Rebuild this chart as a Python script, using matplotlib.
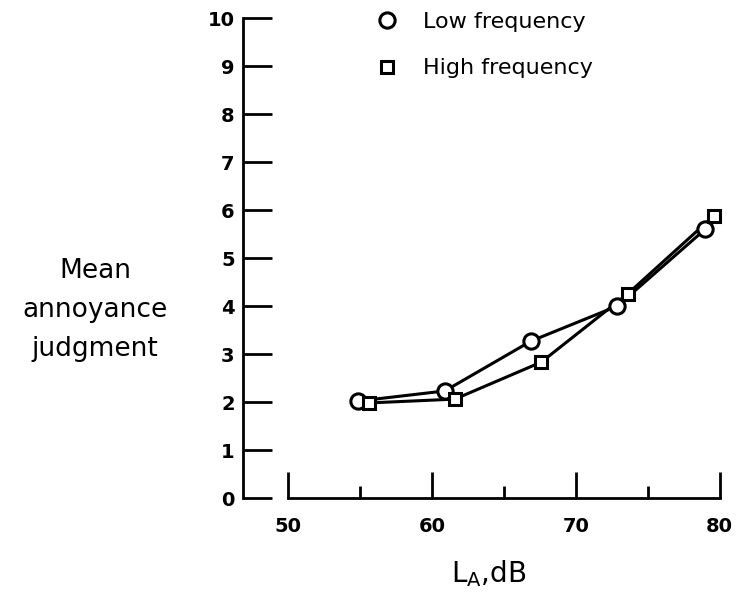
import matplotlib.pyplot as plt
from matplotlib.lines import Line2D

# data
low_x = [54.9, 60.9, 66.9, 72.9, 79.0]
low_y = [2.02, 2.23, 3.27, 4.00, 5.60]
high_x = [55.6, 61.6, 67.6, 73.6, 79.6]
high_y = [1.98, 2.06, 2.83, 4.25, 5.88]

x_ticks = [50, 60, 70, 80]
x_minor = [55, 65, 75]
y_ticks = list(range(0, 11))

plt.rcParams['font.family'] = ['DejaVu Sans']

fig = plt.figure(figsize=(7.41, 6.01), dpi=100)
ax = fig.add_axes([243 / 741, 103 / 601, 491 / 741, 480 / 601])

# lines first, then white filled markers on top
ax.plot(low_x, low_y, '-', color='black', linewidth=2.2, zorder=2)
ax.plot(high_x, high_y, '-', color='black', linewidth=2.2, zorder=2)
ax.plot(low_x, low_y, 'o', markersize=11, markerfacecolor='white',
        markeredgecolor='black', markeredgewidth=2.2, linestyle='none', zorder=3)
ax.plot(high_x, high_y, 's', markersize=8.5, markerfacecolor='white',
        markeredgecolor='black', markeredgewidth=2.2, linestyle='none', zorder=4)

ax.set_xlim(46.875, 81)
ax.set_ylim(0, 10)

for s in ['top', 'right']:
    ax.spines[s].set_visible(False)
ax.spines['left'].set_linewidth(2)
ax.spines['bottom'].set_linewidth(2)
ax.spines['bottom'].set_bounds(50, 80)
ax.spines['left'].set_bounds(0, 10)

ax.set_yticks(y_ticks)
ax.set_yticklabels([str(v) for v in y_ticks], fontsize=14, fontweight='bold')
ax.tick_params(axis='y', direction='in', length=21, width=2, pad=6)

ax.set_xticks(x_ticks)
ax.set_xticklabels([str(v) for v in x_ticks], fontsize=14, fontweight='bold')
ax.set_xticks(x_minor, minor=True)
ax.tick_params(axis='x', which='major', direction='in', length=19, width=2, pad=14)
ax.tick_params(axis='x', which='minor', direction='in', length=9, width=2)

ax.set_xlabel(r'L$_\mathregular{A}$,dB', fontsize=20, labelpad=16)
fig.text(95 / 741, 1 - 310 / 601, 'Mean\nannoyance\njudgment', fontsize=19,
         ha='center', va='center', linespacing=1.65)

handles = [
    Line2D([], [], marker='o', linestyle='none', markersize=11,
           markerfacecolor='white', markeredgecolor='black', markeredgewidth=2.2),
    Line2D([], [], marker='s', linestyle='none', markersize=8.5,
           markerfacecolor='white', markeredgecolor='black', markeredgewidth=2.2),
]
leg = ax.legend(handles, ['Low frequency', 'High frequency'], loc='upper left',
                bbox_to_anchor=(0.267, 1.013), frameon=False, fontsize=16,
                handletextpad=1.0, labelspacing=1.2, handlelength=1.2,
                borderpad=0, borderaxespad=0)

fig.savefig('out.png', dpi=100)
